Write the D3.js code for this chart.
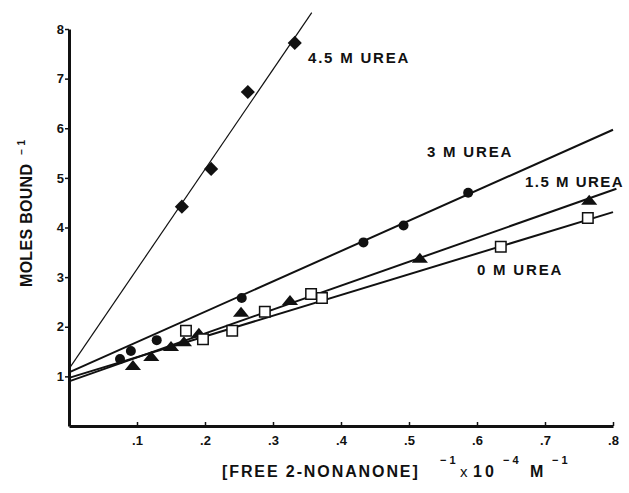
<!DOCTYPE html>
<html>
<head>
<meta charset="utf-8">
<script src="https://cdn.jsdelivr.net/npm/d3@7"></script>
<style>
  body { margin: 0; background: #fff; }
  text { font-family: "Liberation Sans", Arial, sans-serif; fill: #111; }
</style>
</head>
<body>
<div id="chart"></div>
<script>
// Data (x = 1/[free 2-nonanone] x 10^-4, y = 1/moles bound)
var seriesNames = ["0 M UREA", "1.5 M UREA", "3 M UREA", "4.5 M UREA"];

var urea0X = [0.172, 0.197, 0.240, 0.288, 0.356, 0.372, 0.635, 0.763];
var urea0Y = [1.92, 1.75, 1.92, 2.30, 2.66, 2.58, 3.61, 4.19];

var urea15X = [0.094, 0.121, 0.150, 0.169, 0.191, 0.253, 0.325, 0.516, 0.765];
var urea15Y = [1.23, 1.41, 1.61, 1.71, 1.88, 2.30, 2.54, 3.39, 4.56];

var urea3X = [0.075, 0.091, 0.129, 0.254, 0.433, 0.492, 0.587];
var urea3Y = [1.35, 1.51, 1.73, 2.58, 3.70, 4.04, 4.70];

var urea45X = [0.166, 0.209, 0.263, 0.332];
var urea45Y = [4.42, 5.18, 6.73, 7.72];

// fitted straight lines: start at x = 0, end at fitEndX
var fitIntercept = [0.97, 0.90, 1.08, 1.15];
var fitEndX = [0.80, 0.805, 0.80, 0.357];
var fitEndY = [4.31, 4.78, 5.97, 8.33];

var xTicks = [0.1, 0.2, 0.3, 0.4, 0.5, 0.6, 0.7, 0.8];
var yTicks = [1, 2, 3, 4, 5, 6, 7, 8];

var width = 629, height = 493;

var x = d3.scaleLinear().domain([0, 0.8]).range([69, 613]);
var y = d3.scaleLinear().domain([0, 8]).range([426, 29]);

var svg = d3.select("#chart").append("svg")
    .attr("width", width)
    .attr("height", height);

svg.append("rect").attr("width", width).attr("height", height).attr("fill", "#fff");

// axes
var yAxis = svg.append("g")
    .attr("transform", "translate(" + x(0) + ",0)")
    .call(d3.axisLeft(y).tickValues(yTicks).tickSize(4).tickSizeOuter(0).tickFormat(d3.format("d")));
var xAxis = svg.append("g")
    .attr("transform", "translate(0," + y(0) + ")")
    .call(d3.axisBottom(x).tickValues(xTicks).tickSize(-4).tickSizeOuter(0)
        .tickFormat(function(d) { return d3.format(".1f")(d).replace(/^0/, ""); }));

[yAxis, xAxis].forEach(function(a) {
    a.select(".domain").attr("stroke", "#111").attr("stroke-width", 3);
    a.selectAll(".tick line").attr("stroke", "#111").attr("stroke-width", 1.5);
    a.selectAll(".tick text")
        .attr("font-size", 13)
        .attr("font-weight", "bold")
        .attr("fill", "#111")
        .style("font-family", "Liberation Sans, Arial, sans-serif");
});
yAxis.selectAll(".tick text").attr("x", -5);
xAxis.selectAll(".tick text").attr("y", 10).attr("dy", "0.71em");

// fit lines
var lineWidths = [2, 2, 2, 1.2];
seriesNames.forEach(function(name, i) {
    svg.append("line")
        .attr("x1", x(0)).attr("y1", y(fitIntercept[i]))
        .attr("x2", x(fitEndX[i])).attr("y2", y(fitEndY[i]))
        .attr("stroke", "#111")
        .attr("stroke-width", lineWidths[i]);
});

// markers
var flatTriangle = {
    draw: function(ctx, size) {
        var w = Math.sqrt(size) * 0.62, h = w * 0.62;
        ctx.moveTo(-w, h);
        ctx.lineTo(0, -h);
        ctx.lineTo(w, h);
        ctx.closePath();
    }
};

function zip(xs, ys) {
    return xs.map(function(v, i) { return [v, ys[i]]; });
}

svg.append("g").selectAll("path")
    .data(zip(urea15X, urea15Y))
    .enter().append("path")
    .attr("d", d3.symbol().type(flatTriangle).size(170))
    .attr("transform", function(d) { return "translate(" + x(d[0]) + "," + y(d[1]) + ")"; })
    .attr("fill", "#111");

svg.append("g").selectAll("circle")
    .data(zip(urea3X, urea3Y))
    .enter().append("circle")
    .attr("cx", function(d) { return x(d[0]); })
    .attr("cy", function(d) { return y(d[1]); })
    .attr("r", 5)
    .attr("fill", "#111");

svg.append("g").selectAll("path")
    .data(zip(urea45X, urea45Y))
    .enter().append("path")
    .attr("d", d3.symbol().type(d3.symbolSquare).size(100))
    .attr("transform", function(d) { return "translate(" + x(d[0]) + "," + y(d[1]) + ") rotate(45)"; })
    .attr("fill", "#111");

svg.append("g").selectAll("path")
    .data(zip(urea0X, urea0Y))
    .enter().append("path")
    .attr("d", d3.symbol().type(d3.symbolSquare).size(110))
    .attr("transform", function(d) { return "translate(" + x(d[0]) + "," + y(d[1]) + ")"; })
    .attr("fill", "#fff")
    .attr("stroke", "#111")
    .attr("stroke-width", 1.5);

// series labels
var labelPos = [[477, 275], [525, 187], [427, 157], [308, 63]];
svg.append("g").selectAll("text")
    .data(seriesNames)
    .enter().append("text")
    .attr("x", function(d, i) { return labelPos[i][0]; })
    .attr("y", function(d, i) { return labelPos[i][1]; })
    .attr("font-size", 15)
    .attr("font-weight", "bold")
    .attr("letter-spacing", function(d, i) { return i === 1 ? 1.5 : 1.8; })
    .text(function(d) { return d; });

// axis titles
var yt = svg.append("text")
    .attr("transform", "translate(32,287) rotate(-90)")
    .attr("font-size", 16)
    .attr("font-weight", "bold")
    .attr("letter-spacing", 0.3);
yt.append("tspan").text("MOLES BOUND");
yt.append("tspan").attr("dx", 9).attr("dy", -7).attr("font-size", 10).text("\u2212 1");

var xtY = 477, supY = 464;
svg.append("text").attr("x", 222).attr("y", xtY)
    .attr("font-size", 16).attr("font-weight", "bold").attr("letter-spacing", 1.9)
    .text("[FREE 2-NONANONE]");
svg.append("text").attr("x", 440).attr("y", supY)
    .attr("font-size", 11).attr("font-weight", "bold").text("\u2212 1");
svg.append("text").attr("x", 460).attr("y", xtY)
    .attr("font-size", 15).text("x");
svg.append("text").attr("x", 473).attr("y", xtY)
    .attr("font-size", 16).attr("font-weight", "bold").attr("letter-spacing", 3).text("10");
svg.append("text").attr("x", 503).attr("y", supY)
    .attr("font-size", 11).attr("font-weight", "bold").text("\u2212 4");
svg.append("text").attr("x", 530).attr("y", xtY)
    .attr("font-size", 16).attr("font-weight", "bold").text("M");
svg.append("text").attr("x", 552).attr("y", supY)
    .attr("font-size", 11).attr("font-weight", "bold").text("\u2212 1");
</script>
</body>
</html>
